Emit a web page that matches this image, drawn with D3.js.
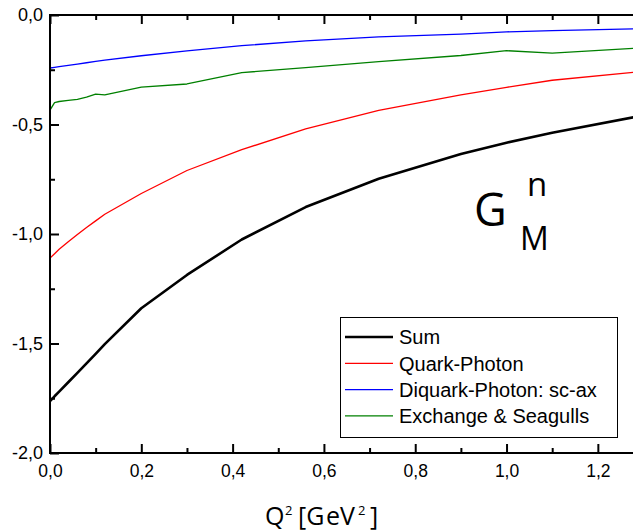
<!DOCTYPE html>
<html>
<head>
<meta charset="utf-8">
<script src="https://cdn.jsdelivr.net/npm/d3@7"></script>
<style>
  html, body { margin: 0; padding: 0; background: #fff; }
  svg { display: block; }
</style>
</head>
<body>
<svg id="chart" width="633" height="532"></svg>
<script>
// Q^2 grid [GeV^2]
const q2 = [0, 0.01, 0.02, 0.04, 0.06, 0.08, 0.1, 0.12, 0.2, 0.3, 0.42, 0.56, 0.72, 0.9, 1.0, 1.1, 1.3];

// Neutron magnetic form factor contributions
const sumVals      = [-1.763, -1.741, -1.72, -1.677, -1.634, -1.591, -1.547, -1.503, -1.339, -1.187, -1.025, -0.877, -0.748, -0.635, -0.583, -0.538, -0.458];
const quarkPhoton  = [-1.11, -1.09, -1.07, -1.035, -1.002, -0.97, -0.94, -0.91, -0.815, -0.71, -0.615, -0.52, -0.436, -0.365, -0.33, -0.298, -0.257];
const diquarkPhoton = [-0.242, -0.239, -0.236, -0.23, -0.224, -0.218, -0.212, -0.206, -0.186, -0.164, -0.14, -0.118, -0.1, -0.087, -0.077, -0.071, -0.062];
const exchangeSeagull = [-0.434, -0.40, -0.395, -0.39, -0.385, -0.375, -0.361, -0.365, -0.329, -0.315, -0.263, -0.24, -0.213, -0.185, -0.163, -0.174, -0.15];

const seriesNames = ["Sum", "Quark-Photon", "Diquark-Photon: sc-ax", "Exchange & Seagulls"];
const seriesColors = ["#000000", "#ff0000", "#0000ff", "#008000"];
const seriesWidths = [2.6, 1.3, 1.3, 1.3];
const seriesValues = [sumVals, quarkPhoton, diquarkPhoton, exchangeSeagull];

const xMajor = [0, 0.2, 0.4, 0.6, 0.8, 1.0, 1.2];
const xMinor = [0.1, 0.3, 0.5, 0.7, 0.9, 1.1];
const yMajor = [0, -0.5, -1.0, -1.5, -2.0];
const yMinor = [-0.25, -0.75, -1.25, -1.75];

const svg = d3.select("#chart");
const plotL = 50, plotR = 633, plotT = 15, plotB = 453;

const x = d3.scaleLinear().domain([0, 1.277]).range([plotL, plotR]);
const y = d3.scaleLinear().domain([-2, 0]).range([plotB, plotT]);

const fmt = d => d3.format(".1f")(d).replace(".", ",").replace("−", "-");

svg.append("defs").append("clipPath").attr("id", "plotClip")
  .append("rect").attr("x", plotL).attr("y", plotT - 2)
  .attr("width", plotR - plotL).attr("height", plotB - plotT + 4);

// curves
const line = d3.line().x((d, i) => x(q2[i])).y(d => y(d));
const curves = svg.append("g").attr("clip-path", "url(#plotClip)");
seriesValues.forEach((vals, k) => {
  curves.append("path")
    .attr("d", line(vals))
    .attr("fill", "none")
    .attr("stroke", seriesColors[k])
    .attr("stroke-width", seriesWidths[k])
    .attr("stroke-linejoin", "round");
});

// axes
const axisFont = "'Liberation Sans', Arial, sans-serif";

function styleTicks(g) {
  g.select(".domain").remove();
  g.selectAll(".tick line").attr("stroke", "#000").attr("stroke-width", 2);
}

const gB = svg.append("g").attr("transform", `translate(0,${plotB})`)
  .call(d3.axisBottom(x).tickValues(xMajor).tickSize(-9).tickFormat(fmt));
styleTicks(gB);
gB.selectAll(".tick text").attr("font-family", axisFont).attr("font-size", 17.5)
  .attr("fill", "#000").attr("y", 24).attr("dy", null);

const gBm = svg.append("g").attr("transform", `translate(0,${plotB})`)
  .call(d3.axisBottom(x).tickValues(xMinor).tickSize(-5).tickFormat(""));
styleTicks(gBm);

const gT = svg.append("g").attr("transform", `translate(0,${plotT})`)
  .call(d3.axisTop(x).tickValues(xMajor).tickSize(-9).tickFormat(""));
styleTicks(gT);
const gTm = svg.append("g").attr("transform", `translate(0,${plotT})`)
  .call(d3.axisTop(x).tickValues(xMinor).tickSize(-5).tickFormat(""));
styleTicks(gTm);

const gL = svg.append("g").attr("transform", `translate(${plotL},0)`)
  .call(d3.axisLeft(y).tickValues(yMajor).tickSize(-9).tickFormat(fmt));
styleTicks(gL);
gL.selectAll(".tick text").attr("font-family", axisFont).attr("font-size", 18).attr("fill", "#000").attr("x", -7);
const gLm = svg.append("g").attr("transform", `translate(${plotL},0)`)
  .call(d3.axisLeft(y).tickValues(yMinor).tickSize(-5).tickFormat(""));
styleTicks(gLm);

// frame lines (left, bottom, top)
svg.append("line").attr("x1", plotL).attr("x2", plotL).attr("y1", plotT - 1).attr("y2", plotB + 1)
  .attr("stroke", "#000").attr("stroke-width", 2);
svg.append("line").attr("x1", plotL).attr("x2", plotR).attr("y1", plotB).attr("y2", plotB)
  .attr("stroke", "#000").attr("stroke-width", 2);
svg.append("line").attr("x1", plotL).attr("x2", plotR).attr("y1", plotT).attr("y2", plotT)
  .attr("stroke", "#000").attr("stroke-width", 2);

// x-axis title: Q^2 [GeV^2]
const titleFont = "'Open Sans', 'DejaVu Sans', sans-serif";
const xt = svg.append("g").attr("font-family", titleFont).attr("fill", "#000");
const base = 525, sup = 515;
xt.append("text").attr("x", 265).attr("y", base).attr("font-size", 25).text("Q");
xt.append("text").attr("x", 285).attr("y", sup).attr("font-size", 13).text("2");
xt.append("text").attr("x", 298).attr("y", base).attr("font-size", 25).text("[G");
xt.append("text").attr("x", 326).attr("y", base).attr("font-size", 25).text("eV");
xt.append("text").attr("x", 358).attr("y", sup).attr("font-size", 13).text("2");
xt.append("text").attr("x", 370).attr("y", base).attr("font-size", 25).text("]");

// G_M^n label
svg.append("text").attr("x", 474).attr("y", 226)
  .attr("font-family", titleFont).attr("font-size", 45).attr("fill", "#000").text("G");
svg.append("text").attr("x", 527).attr("y", 196)
  .attr("font-family", titleFont).attr("font-size", 33).attr("fill", "#000").text("n");
svg.append("text").attr("x", 520).attr("y", 250)
  .attr("font-family", titleFont).attr("font-size", 32).attr("fill", "#000").text("M");

// legend
const lg = svg.append("g");
lg.append("rect").attr("x", 340.5).attr("y", 317.5).attr("width", 277).attr("height", 120)
  .attr("fill", "#fff").attr("stroke", "#000").attr("stroke-width", 1);
seriesNames.forEach((name, k) => {
  const yy = 337 + k * 26.3;
  lg.append("line").attr("x1", 345).attr("x2", 393).attr("y1", yy).attr("y2", yy)
    .attr("stroke", seriesColors[k]).attr("stroke-width", k === 0 ? 2.6 : 1.3);
  lg.append("text").attr("x", 399).attr("y", yy).attr("dy", "0.36em")
    .attr("font-family", axisFont).attr("font-size", 20).attr("fill", "#000").text(name);
});
</script>
</body>
</html>
